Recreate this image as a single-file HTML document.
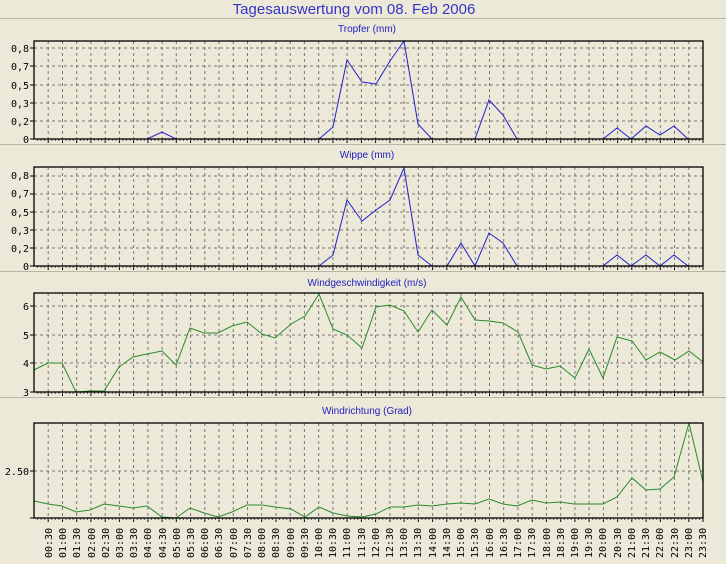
<!DOCTYPE html>
<html><head><meta charset="utf-8"><style>
html,body{margin:0;padding:0;background:#ece9d8;}
svg{display:block;font-family:"Liberation Sans",sans-serif;}
.yl{font-size:10px;fill:#000;text-anchor:end;font-family:"DejaVu Sans Mono","Liberation Mono",monospace;}
.tl{font-size:10px;fill:#000;font-family:"DejaVu Sans Mono","Liberation Mono",monospace;}
.st{font-size:10px;fill:#2020c0;text-anchor:middle;}
</style></head><body>
<svg id="s" width="726" height="564" viewBox="0 0 726 564">
<rect width="726" height="564" fill="#ece9d8"/>
<text x="354" y="14" font-size="15" fill="#3535c8" text-anchor="middle">Tagesauswertung vom 08. Feb 2006</text>
<line x1="0" y1="18.5" x2="726" y2="18.5" stroke="#b8b6a8"/>
<line x1="0" y1="144.5" x2="726" y2="144.5" stroke="#b8b6a8"/>
<line x1="0" y1="271.5" x2="726" y2="271.5" stroke="#b8b6a8"/>
<line x1="0" y1="397.5" x2="726" y2="397.5" stroke="#b8b6a8"/>
<text class="st" x="367" y="32">Tropfer (mm)</text>
<text class="st" x="367" y="158">Wippe (mm)</text>
<text class="st" x="367" y="286">Windgeschwindigkeit (m/s)</text>
<text class="st" x="367" y="414">Windrichtung (Grad)</text>
<g id="grid"></g>
<!-- y labels panel1 -->
<text class="yl" x="29" y="52">0,8</text><text class="yl" x="29" y="70">0,7</text><text class="yl" x="29" y="89">0,5</text><text class="yl" x="29" y="107">0,3</text><text class="yl" x="29" y="125">0,2</text><text class="yl" x="29" y="143">0</text>
<text class="yl" x="29" y="179">0,8</text><text class="yl" x="29" y="197">0,7</text><text class="yl" x="29" y="216">0,5</text><text class="yl" x="29" y="234">0,3</text><text class="yl" x="29" y="252">0,2</text><text class="yl" x="29" y="270">0</text>
<text class="yl" x="29" y="310">6</text><text class="yl" x="29" y="339">5</text><text class="yl" x="29" y="367">4</text><text class="yl" x="29" y="396">3</text>
<text class="yl" x="29" y="475">2.50</text>
<polyline fill="none" stroke="#2020d0" stroke-width="1" points="34,139 147,139 162,132 176,139 319,139 333,127 347,60 362,82 376,84 390,61 404,41 418,124 432,139 475,139 489,100 503,115 517,139 603,139 617,128 631,139 646,126 660,135 674,126 688,139 703,139"/>
<polyline fill="none" stroke="#2020d0" stroke-width="1" points="34,266 319,266 333,255 347,200 362,221 376,210 390,200 404,168 418,255 432,266 447,266 461,243 475,266 489,233 503,243 517,266 603,266 617,255 631,266 646,255 660,266 674,255 688,266 703,266"/>
<polyline fill="none" stroke="#2a8a2a" stroke-width="1" points="34,370 48,363 62,363 76,392 90,391 104,391 119,367 133,357 147,354 162,351 176,365 190,328 204,333 218,333 232,326 247,322 262,334 275,338 291,324 305,316 319,294 333,329 347,335 362,348 376,307 390,305 404,311 418,332 432,310 447,325 461,297 475,320 489,321 503,323 518,332 532,365 546,369 560,366 575,378 589,349 603,378 617,337 632,341 646,360 660,352 675,360 689,351 703,362"/>
<polyline fill="none" stroke="#2a8a2a" stroke-width="1" points="34,501 48,504 62,506 76,512 90,510 104,504 119,506 133,508 147,506 162,517 176,518 190,508 204,513 218,517 232,512 247,505 262,505 275,507 291,509 305,517 319,507 333,513 347,516 362,517 376,514 390,507 404,507 418,505 432,506 447,504 461,503 475,504 489,499 503,504 517,506 532,500 546,503 560,502 574,504 589,504 603,504 617,497 632,478 646,490 660,489 674,477 689,423 703,482"/>
<g id="boxes" fill="none" stroke="#000" stroke-width="1.3">
<rect x="34" y="41" width="669" height="98"/>
<rect x="34" y="167" width="669" height="99"/>
<rect x="34" y="293" width="669" height="99"/>
<rect x="34" y="423" width="669" height="95"/>
</g>
<g id="tlabels">
<text class="tl" transform="translate(52,558) rotate(-90)">00:30</text>
<text class="tl" transform="translate(66,558) rotate(-90)">01:00</text>
<text class="tl" transform="translate(80,558) rotate(-90)">01:30</text>
<text class="tl" transform="translate(95,558) rotate(-90)">02:00</text>
<text class="tl" transform="translate(109,558) rotate(-90)">02:30</text>
<text class="tl" transform="translate(123,558) rotate(-90)">03:00</text>
<text class="tl" transform="translate(137,558) rotate(-90)">03:30</text>
<text class="tl" transform="translate(151,558) rotate(-90)">04:00</text>
<text class="tl" transform="translate(166,558) rotate(-90)">04:30</text>
<text class="tl" transform="translate(180,558) rotate(-90)">05:00</text>
<text class="tl" transform="translate(194,558) rotate(-90)">05:30</text>
<text class="tl" transform="translate(208,558) rotate(-90)">06:00</text>
<text class="tl" transform="translate(222,558) rotate(-90)">06:30</text>
<text class="tl" transform="translate(237,558) rotate(-90)">07:00</text>
<text class="tl" transform="translate(251,558) rotate(-90)">07:30</text>
<text class="tl" transform="translate(265,558) rotate(-90)">08:00</text>
<text class="tl" transform="translate(279,558) rotate(-90)">08:30</text>
<text class="tl" transform="translate(294,558) rotate(-90)">09:00</text>
<text class="tl" transform="translate(308,558) rotate(-90)">09:30</text>
<text class="tl" transform="translate(322,558) rotate(-90)">10:00</text>
<text class="tl" transform="translate(336,558) rotate(-90)">10:30</text>
<text class="tl" transform="translate(350,558) rotate(-90)">11:00</text>
<text class="tl" transform="translate(365,558) rotate(-90)">11:30</text>
<text class="tl" transform="translate(379,558) rotate(-90)">12:00</text>
<text class="tl" transform="translate(393,558) rotate(-90)">12:30</text>
<text class="tl" transform="translate(407,558) rotate(-90)">13:00</text>
<text class="tl" transform="translate(421,558) rotate(-90)">13:30</text>
<text class="tl" transform="translate(436,558) rotate(-90)">14:00</text>
<text class="tl" transform="translate(450,558) rotate(-90)">14:30</text>
<text class="tl" transform="translate(464,558) rotate(-90)">15:00</text>
<text class="tl" transform="translate(478,558) rotate(-90)">15:30</text>
<text class="tl" transform="translate(493,558) rotate(-90)">16:00</text>
<text class="tl" transform="translate(507,558) rotate(-90)">16:30</text>
<text class="tl" transform="translate(521,558) rotate(-90)">17:00</text>
<text class="tl" transform="translate(535,558) rotate(-90)">17:30</text>
<text class="tl" transform="translate(550,558) rotate(-90)">18:00</text>
<text class="tl" transform="translate(564,558) rotate(-90)">18:30</text>
<text class="tl" transform="translate(578,558) rotate(-90)">19:00</text>
<text class="tl" transform="translate(592,558) rotate(-90)">19:30</text>
<text class="tl" transform="translate(606,558) rotate(-90)">20:00</text>
<text class="tl" transform="translate(621,558) rotate(-90)">20:30</text>
<text class="tl" transform="translate(635,558) rotate(-90)">21:00</text>
<text class="tl" transform="translate(649,558) rotate(-90)">21:30</text>
<text class="tl" transform="translate(663,558) rotate(-90)">22:00</text>
<text class="tl" transform="translate(678,558) rotate(-90)">22:30</text>
<text class="tl" transform="translate(692,558) rotate(-90)">23:00</text>
<text class="tl" transform="translate(706,558) rotate(-90)">23:30</text>
</g>
</svg>
<script>
(function(){
var g=document.getElementById('grid'),ns='http://www.w3.org/2000/svg',h='';
var panels=[[41,139,[48,66,85,103,121]],[167,266,[176,194,212,230,248]],[293,392,[306,335,363]],[423,518,[471]]];
panels.forEach(function(p){
 for(var i=1;i<47;i++){var x=(34+i*14.234).toFixed(1);
  h+='<line x1="'+x+'" y1="'+p[0]+'" x2="'+x+'" y2="'+p[1]+'" stroke="#777" stroke-dasharray="3,3" stroke-width="1"/>';}
 for(var i=1;i<=47;i++){var x=(34+i*14.234).toFixed(1);h+='<line x1="'+x+'" y1="'+p[1]+'" x2="'+x+'" y2="'+(p[1]+4)+'" stroke="#000"/>';}
 for(var j=1;j<188;j++){var x=(34+j*3.5585).toFixed(1);h+='<line x1="'+x+'" y1="'+p[1]+'" x2="'+x+'" y2="'+(p[1]+2)+'" stroke="#555"/>';}
 p[2].forEach(function(y){h+='<line x1="34" y1="'+y+'" x2="703" y2="'+y+'" stroke="#777" stroke-dasharray="3,3"/><line x1="30" y1="'+y+'" x2="34" y2="'+y+'" stroke="#000"/>';});
 h+='<line x1="30" y1="'+p[1]+'" x2="34" y2="'+p[1]+'" stroke="#000"/>';
});
g.innerHTML=h;
})();
</script>
</body></html>
